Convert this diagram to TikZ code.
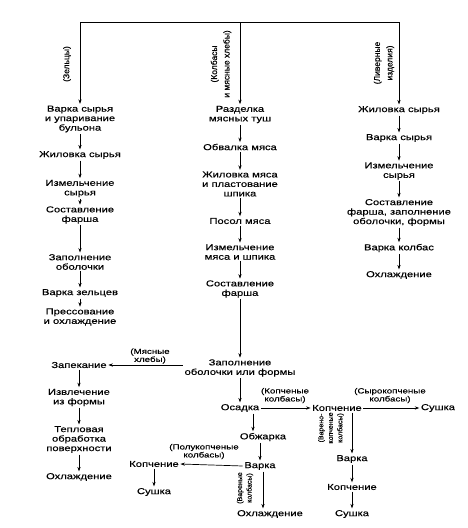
\documentclass[tikz,border=0pt]{standalone}
\usepackage{fontspec}
\newfontfamily\dfont[FakeStretch=1.3,FakeBold=0.3]{Liberation Sans}
\newfontfamily\rfont[FakeBold=0.3]{Liberation Sans}
\usetikzlibrary{arrows.meta}
\begin{document}
\begin{tikzpicture}[x=1pt,y=-1pt,
 box/.style={font=\dfont\fontsize{8.6}{9.5}\selectfont, align=center, inner sep=1.5pt},
 lab/.style={font=\dfont\fontsize{7.5}{8}\selectfont, align=center, inner sep=0pt},
 rlab/.style={font=\rfont\fontsize{8.5}{12.5}\selectfont, align=center, inner sep=0pt, rotate=90},
 rlabs/.style={font=\rfont\fontsize{7}{9.5}\selectfont, align=center, inner sep=0pt, rotate=90},
 arr/.style={-{Stealth[length=4.5pt,width=3.2pt]}, line width=0.7pt},
 ln/.style={line width=0.7pt}]
\useasboundingbox[fill=white] (0,0) rectangle (467,528);
% top
\coordinate (tl) at (80,22);
\coordinate (tr) at (399,22);
% left column
\node[box] (n1) at (80,119) {Варка сырья\\и упаривание\\бульона};
\node[box] (n2) at (80,155) {Жиловка сырья};
\node[box] (n3) at (80,188.5) {Измельчение\\сырья};
\node[box] (n4) at (80,215) {Составление\\фарша};
\node[box] (n5) at (80,262) {Заполнение\\оболочки};
\node[box] (n6) at (80,293) {Варка зельцев};
\node[box] (n7) at (80,317) {Прессование\\и охлаждение};
% middle column
\node[box] (m1) at (240,114.5) {Разделка\\мясных туш};
\node[box] (m2) at (240,147) {Обвалка мяса};
\node[box] (m3) at (240,184) {Жиловка мяса\\и пластование\\шпика};
\node[box] (m4) at (240,221) {Посол мяса};
\node[box] (m5) at (240,252) {Измельчение\\мяса и шпика};
\node[box] (m6) at (240,289) {Составление\\фарша};
\node[box] (m7) at (240,368) {Заполнение\\оболочки или формы};
% right column
\node[box] (r1) at (399,110) {Жиловка сырья};
\node[box] (r2) at (399,138) {Варка сырья};
\node[box] (r3) at (399,171) {Измельчение\\сырья};
\node[box] (r4) at (399,212.5) {Составление\\фарша, заполнение\\оболочки, формы};
\node[box] (r5) at (399,248) {Варка колбас};
\node[box] (r6) at (399,275) {Охлаждение};
% bottom left
\node[box] (zk) at (79,365) {Запекание};
\node[box] (iz) at (79,397.5) {Извлечение\\из формы};
\node[box] (tp) at (79,439.5) {Тепловая\\обработка\\поверхности};
\node[box] (o1) at (79,477) {Охлаждение};
% bottom middle/right
\node[box] (os) at (240,408) {Осадка};
\node[box] (k1) at (337,408) {Копчение};
\node[box] (s1) at (438,408) {Сушка};
\node[box] (ob) at (263,437) {Обжарка};
\node[box] (v1) at (260,466) {Варка};
\node[box] (k2) at (154,464) {Копчение};
\node[box] (s2) at (154,492) {Сушка};
\node[box] (o2) at (270,514) {Охлаждение};
\node[box] (v2) at (352,459) {Варка};
\node[box] (k3) at (352,487) {Копчение};
\node[box] (s3) at (352,514) {Сушка};
% labels
\node[rlab] (lz) at (67,64) {(Зельцы)};
\node[rlab] (lk) at (221,64) {(Колбасы\\и мясные хлебы)};
\node[rlab] (ll) at (384,63) {(Ливерные\\изделия)};
\node[lab] (lmh) at (150,356) {(Мясные\\хлебы)};
\node[lab] (lkk) at (285,395.5) {(Копченые\\колбасы)};
\node[lab] (lsk) at (390,395.5) {(Сырокопченые\\колбасы)};
\node[lab] (lpk) at (204,451.5) {(Полукопченые\\колбасы)};
\node[rlabs] (lvk) at (245,488) {(Вареные\\колбасы)};
\node[rlabs] (lvkk) at (331,428) {(Варено-\\копченые\\колбасы)};
% helper coordinates
\coordinate (mw) at ([yshift=3pt]m7.west);
\coordinate (osr) at ([xshift=13pt]os.south);
\coordinate (v1s) at ([xshift=3pt]v1.south);
% top connectors
\draw[ln] (tl) -- (tr);
\draw[arr] (tl) -- (n1.north);
\draw[arr] (m1.north |- tl) -- (m1.north);
\draw[arr] (tr) -- (r1.north);
% left chain
\draw[arr] (n1) -- (n2);
\draw[arr] (n2) -- (n3);
\draw[arr] (n3) -- (n4);
\draw[arr] (n4) -- (n5);
\draw[arr] (n5) -- (n6);
\draw[arr] (n6) -- (n7);
% middle chain
\draw[arr] (m1) -- (m2);
\draw[arr] (m2) -- (m3);
\draw[arr] (m3) -- (m4);
\draw[arr] (m4) -- (m5);
\draw[arr] (m5) -- (m6);
\draw[arr] (m6) -- (m7);
% right chain
\draw[arr] (r1) -- (r2);
\draw[arr] (r2) -- (r3);
\draw[arr] (r3) -- (r4);
\draw[arr] (r4) -- (r5);
\draw[arr] (r5) -- (r6);
% bottom
\draw[arr] (mw) -- (zk.east |- mw);
\draw[arr] (zk) -- (iz);
\draw[arr] (iz) -- (tp);
\draw[arr] (tp) -- (o1);
\draw[arr] (m7.south -| os) -- (os.north);
\draw[arr] (os.east) -- (k1.west);
\draw[arr] (k1.east) -- (s1.west);
\draw[arr] (osr) -- (osr |- ob.north);
\draw[arr] (ob.south -| v1.north) -- (v1.north);
\draw[arr] (v1.west) -- (k2.east);
\draw[arr] (k2) -- (s2);
\draw[arr] (v1s) -- (v1s |- o2.north);
\draw[arr] (k1.south -| v2) -- (v2.north);
\draw[arr] (v2) -- (k3);
\draw[arr] (k3) -- (s3);
\end{tikzpicture}
\end{document}
